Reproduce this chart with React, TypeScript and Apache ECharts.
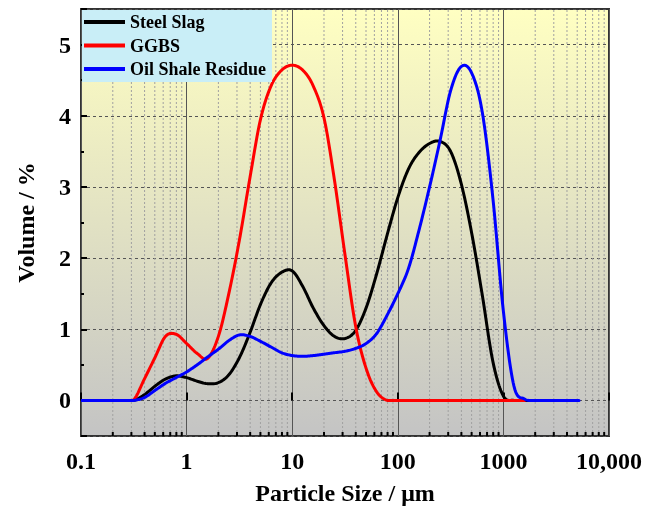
import React, { useEffect, useRef } from "react";
import * as echarts from "echarts";

const seriesNames = ["Steel Slag", "GGBS", "Oil Shale Residue"];
const seriesColors = ["#000000", "#FF0000", "#0000FF"];

// Particle size bins (µm), log-spaced like the instrument output
const sizes = [
  0.1, 0.126, 0.158, 0.2, 0.251, 0.316, 0.398, 0.501, 0.631, 0.794,
  1, 1.26, 1.58, 2.0, 2.51, 3.16, 3.98, 5.01, 6.31, 7.94,
  10, 12.6, 15.8, 20, 25.1, 31.6, 39.8, 50.1, 63.1, 79.4,
  100, 126, 158, 200, 251, 316, 398, 501, 631, 794,
  1000, 1259, 1585, 1995, 2512, 3162, 3981, 5200,
];

const steelSlagValues = [
  0, 0, 0, 0, 0, 0, 0.08, 0.2, 0.3, 0.345,
  0.32, 0.27, 0.235, 0.25, 0.36, 0.6, 0.95, 1.35, 1.65, 1.8,
  1.82, 1.6, 1.3, 1.05, 0.9, 0.87, 0.98, 1.3, 1.78, 2.33,
  2.85, 3.25, 3.48, 3.61, 3.64, 3.5, 3.05, 2.35, 1.48, 0.55,
  0.06, 0, 0, 0,
];

const ggbsValues = [
  0, 0, 0, 0, 0, 0.01, 0.3, 0.6, 0.9, 0.93,
  0.8, 0.66, 0.59, 0.9, 1.5, 2.25, 3.13, 3.95, 4.42, 4.64,
  4.71, 4.64, 4.42, 3.97, 3.1, 2.05, 1.05, 0.45, 0.12, 0,
  0, 0, 0, 0, 0, 0, 0, 0, 0, 0,
  0, 0, 0,
];

const oilShaleValues = [
  0, 0, 0, 0, 0, 0, 0.04, 0.14, 0.24, 0.32,
  0.4, 0.5, 0.61, 0.72, 0.84, 0.92, 0.9, 0.83, 0.75, 0.67,
  0.63, 0.62, 0.63, 0.65, 0.67, 0.69, 0.73, 0.8, 0.94, 1.2,
  1.5, 1.85, 2.38, 3.0, 3.65, 4.35, 4.69, 4.6, 4.05, 2.85,
  1.25, 0.2, 0.02, 0, 0, 0, 0, 0,
];

const xTickLabels = ["0.1", "1", "10", "100", "1000", "10,000"];
const minorXTicks = [
  0.2, 0.3, 0.4, 0.5, 0.6, 0.7, 0.8, 0.9,
  2, 3, 4, 5, 6, 7, 8, 9,
  20, 30, 40, 50, 60, 70, 80, 90,
  200, 300, 400, 500, 600, 700, 800, 900,
  2000, 3000, 4000, 5000, 6000, 7000, 8000, 9000,
];

const FONT = "'Liberation Serif', 'Times New Roman', serif";
const Y_MIN = -0.5;
const Y_MAX = 5.5;

// Smooth curve (Catmull-Rom through the data points, in pixel space)
function curveSeries(name: string, color: string, vals: number[]) {
  return {
    type: "custom",
    name,
    coordinateSystem: "cartesian2d",
    z: 3,
    silent: true,
    clip: true,
    itemStyle: { color },
    encode: { x: 0, y: 1 },
    data: vals.map((v, i) => [sizes[i], v]),
    renderItem: (params: any, api: any) => {
      if (params.dataIndex !== 0) return null;
      const pts: number[][] = vals.map((v, i) => api.coord([sizes[i], v]));
      const zeroY = api.coord([1, 0])[1];
      const out: number[][] = [];
      const n = pts.length;
      for (let i = 0; i < n - 1; i++) {
        const p0 = pts[Math.max(i - 1, 0)];
        const p1 = pts[i];
        const p2 = pts[i + 1];
        const p3 = pts[Math.min(i + 2, n - 1)];
        const steps = 12;
        for (let s = 0; s < steps; s++) {
          const t = s / steps;
          const t2 = t * t;
          const t3 = t2 * t;
          const f = (a: number, b: number, c: number, d: number) =>
            0.5 *
            (2 * b + (-a + c) * t + (2 * a - 5 * b + 4 * c - d) * t2 + (-a + 3 * b - 3 * c + d) * t3);
          const x = f(p0[0], p1[0], p2[0], p3[0]);
          const y = f(p0[1], p1[1], p2[1], p3[1]);
          out.push([x, Math.min(y, zeroY)]);
        }
      }
      out.push(pts[n - 1]);
      return {
        type: "polyline",
        shape: { points: out },
        style: { stroke: color, lineWidth: 3, fill: null, lineJoin: "round", lineCap: "round" },
      };
    },
  };
}

export default function App() {
  const ref = useRef<HTMLDivElement>(null);

  useEffect(() => {
    if (!ref.current) return;
    const chart = echarts.init(ref.current, undefined, { renderer: "svg" });
    const data = [steelSlagValues, ggbsValues, oilShaleValues];

    const option: any = {
      animation: false,
      grid: {
        left: 81,
        right: 39,
        top: 9,
        bottom: 75,
        show: true,
        borderColor: "#333",
        borderWidth: 2,
        backgroundColor: new echarts.graphic.LinearGradient(0, 0, 0, 1, [
          { offset: 0, color: "#FFFFC2" },
          { offset: 1, color: "#C4C4C4" },
        ]),
      },
      legend: {
        data: seriesNames,
        orient: "vertical",
        left: 84,
        top: 13,
        padding: 0,
        icon: "rect",
        itemWidth: 41,
        itemHeight: 4,
        itemGap: 5.5,
        z: 6,
        textStyle: {
          fontFamily: FONT,
          fontWeight: "bold",
          fontSize: 18,
          lineHeight: 18,
          color: "#000",
        },
      },
      graphic: [
        {
          type: "rect",
          z: 5,
          shape: { x: 82, y: 10, width: 190, height: 72 },
          style: { fill: "#C9EEF7" },
          silent: true,
        },
      ],
      xAxis: {
        type: "log",
        logBase: 10,
        min: 0.1,
        max: 10000,
        name: "Particle Size / \u03bcm",
        nameLocation: "middle",
        nameGap: 45,
        nameTextStyle: { fontFamily: FONT, fontWeight: "bold", fontSize: 24, color: "#000" },
        axisLine: { show: false },
        axisTick: { show: true, inside: true, length: 8, lineStyle: { color: "#000", width: 2 } },
        axisLabel: {
          margin: 13,
          fontFamily: FONT,
          fontWeight: "bold",
          fontSize: 24,
          color: "#000",
          formatter: (v: number) => {
            const i = Math.round(Math.log10(v)) + 1;
            return xTickLabels[i] ?? String(v);
          },
        },
        splitLine: { show: true, lineStyle: { color: "#555", width: 1 } },
      },
      yAxis: {
        type: "value",
        min: Y_MIN,
        max: Y_MAX,
        splitNumber: 6,
        name: "Volume / %",
        nameLocation: "middle",
        nameGap: 43,
        nameTextStyle: { fontFamily: FONT, fontWeight: "bold", fontSize: 24, color: "#000" },
        axisLine: { show: false },
        axisTick: { show: true, inside: true, length: 6, lineStyle: { color: "#000", width: 2 } },
        minorTick: { show: true, splitNumber: 2, length: 3, lineStyle: { color: "#000", width: 2 } },
        axisLabel: {
          margin: 10,
          fontFamily: FONT,
          fontWeight: "bold",
          fontSize: 24,
          color: "#000",
          formatter: (v: number) =>
            Math.abs(v - Math.round(v)) < 1e-9 ? String(Math.round(v)) : "",
        },
        splitLine: { show: true, lineStyle: { color: "#555", width: 1, type: [3, 3] } },
        minorSplitLine: { show: false },
      },
      series: [
        {
          type: "custom",
          name: "minorGrid",
          silent: true,
          z: 1,
          clip: false,
          data: minorXTicks.map((v) => [v, 0]),
          renderItem: (_params: any, api: any) => {
            const x = api.value(0);
            const p0 = api.coord([x, Y_MIN]);
            const p1 = api.coord([x, Y_MAX]);
            return {
              type: "group",
              children: [
                {
                  type: "line",
                  shape: { x1: p0[0], y1: p0[1], x2: p1[0], y2: p1[1] },
                  style: { stroke: "#a0a0a0", lineWidth: 1, lineDash: [2, 2] },
                },
                {
                  type: "line",
                  shape: { x1: p0[0], y1: p0[1], x2: p0[0], y2: p0[1] - 4 },
                  style: { stroke: "#000", lineWidth: 2 },
                },
              ],
            };
          },
        },
        ...seriesNames.map((name, i) => curveSeries(name, seriesColors[i], data[i])),
      ],
    };

    chart.setOption(option);
    return () => chart.dispose();
  }, []);

  return (
    <div
      ref={ref}
      style={{ position: "fixed", left: 0, top: 0, width: 648, height: 511 }}
    />
  );
}
